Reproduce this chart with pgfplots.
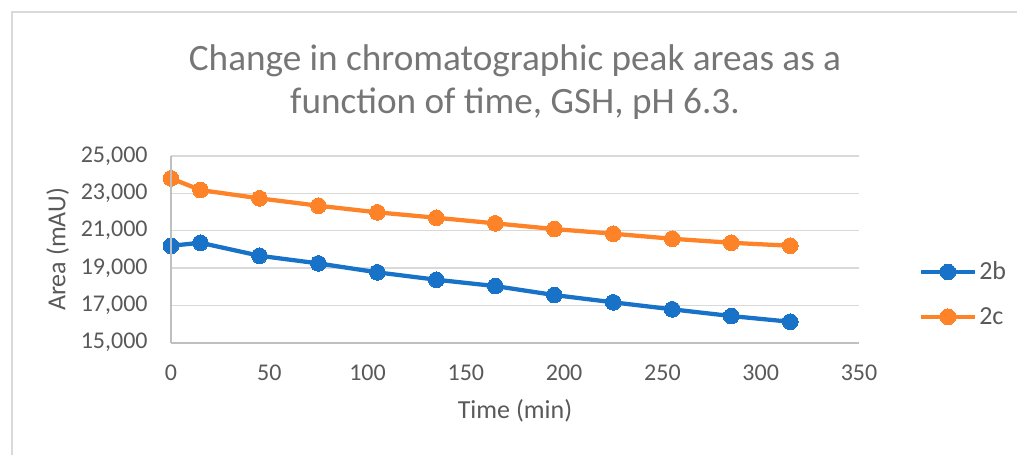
\documentclass[border=0pt]{standalone}
\usepackage{pgfplots}
\pgfplotsset{compat=1.18}
\usepackage{fontspec}
\setmainfont{Carlito}
\definecolor{serB}{RGB}{24,114,200}
\definecolor{serC}{RGB}{253,130,40}
\definecolor{gridc}{RGB}{217,217,217}
\definecolor{axc}{RGB}{191,191,191}
\definecolor{txt}{RGB}{89,89,89}
\definecolor{ttl}{RGB}{118,118,118}
\begin{document}
\begin{tikzpicture}
% frame and page size (pixel grid at 0.75pt per pixel, y upward)
\useasboundingbox (0pt,0pt) rectangle (762.75pt,341.25pt);
\draw[gridc,line width=1pt] (9pt,0pt) -- (9pt,332.25pt) -- (762.75pt,332.25pt);
\begin{axis}[
  at={(128.25pt,84.2pt)}, anchor=south west,
  scale only axis, width=516pt, height=140pt,
  xmin=0, xmax=350, ymin=15000, ymax=25000,
  xtick={0,50,...,350}, ytick={15000,17000,...,25000},
  ymajorgrids, grid style={gridc,line width=1.1pt},
  axis line style={draw=none},
  axis x line*=bottom, axis y line*=left,
  extra description/.code={
    \draw[axc,line width=1.3pt] (axis cs:0,15000) -- (axis cs:0,25000);
    \draw[axc,line width=1.3pt] (axis cs:0,15000) -- (axis cs:350,15000);
  },
  major tick length=0pt,
  tick label style={font=\fontsize{18}{20}\selectfont, text=txt},
  /pgf/number format/assume math mode=true,
  scaled y ticks=false,
  yticklabel={\pgfmathprintnumber[fixed,1000 sep={,}]{\tick}},
  yticklabel style={xshift=-14pt},
  xticklabel style={yshift=-13pt},
  xlabel={Time (min)}, ylabel={Area (mAU)},
  label style={font=\fontsize{19.5}{22}\selectfont, text=txt},
  xlabel style={yshift=-7pt},
  ylabel style={yshift=2pt},
  title={Change in chromatographic peak areas as a\\function of time, GSH, pH 6.3.},
  title style={font=\fontsize{27.9}{32.5}\selectfont, text=ttl, align=center, yshift=18pt},
  legend style={at={(1.0,0.5)}, anchor=west, draw=none, fill=none,
    font=\fontsize{19.5}{22}\selectfont, text=txt, row sep=15pt,
    xshift=42pt, yshift=-33.5pt},
  legend cell align=left,
  legend image code/.code={
    \draw[mark repeat=2,mark phase=2,#1] plot coordinates {(0cm,0cm) (0.7cm,0cm) (1.4cm,0cm)};
  },
  every axis plot/.append style={line width=3.2pt, mark=*, mark size=5.9pt},
]
\addplot[serB, mark options={fill=serB, draw=serB, line width=0pt}] coordinates {
(0,20195) (15,20355) (45,19660) (75,19250) (105,18770) (135,18375)
(165,18035) (195,17555) (225,17165) (255,16790) (285,16430) (315,16125)};
\addlegendentry{2b}
\addplot[serC, mark options={fill=serC, draw=serC, line width=0pt}] coordinates {
(0,23806) (15,23180) (45,22735) (75,22340) (105,21985) (135,21695)
(165,21395) (195,21090) (225,20840) (255,20570) (285,20355) (315,20195)};
\addlegendentry{2c}
\end{axis}
\end{tikzpicture}
\end{document}
